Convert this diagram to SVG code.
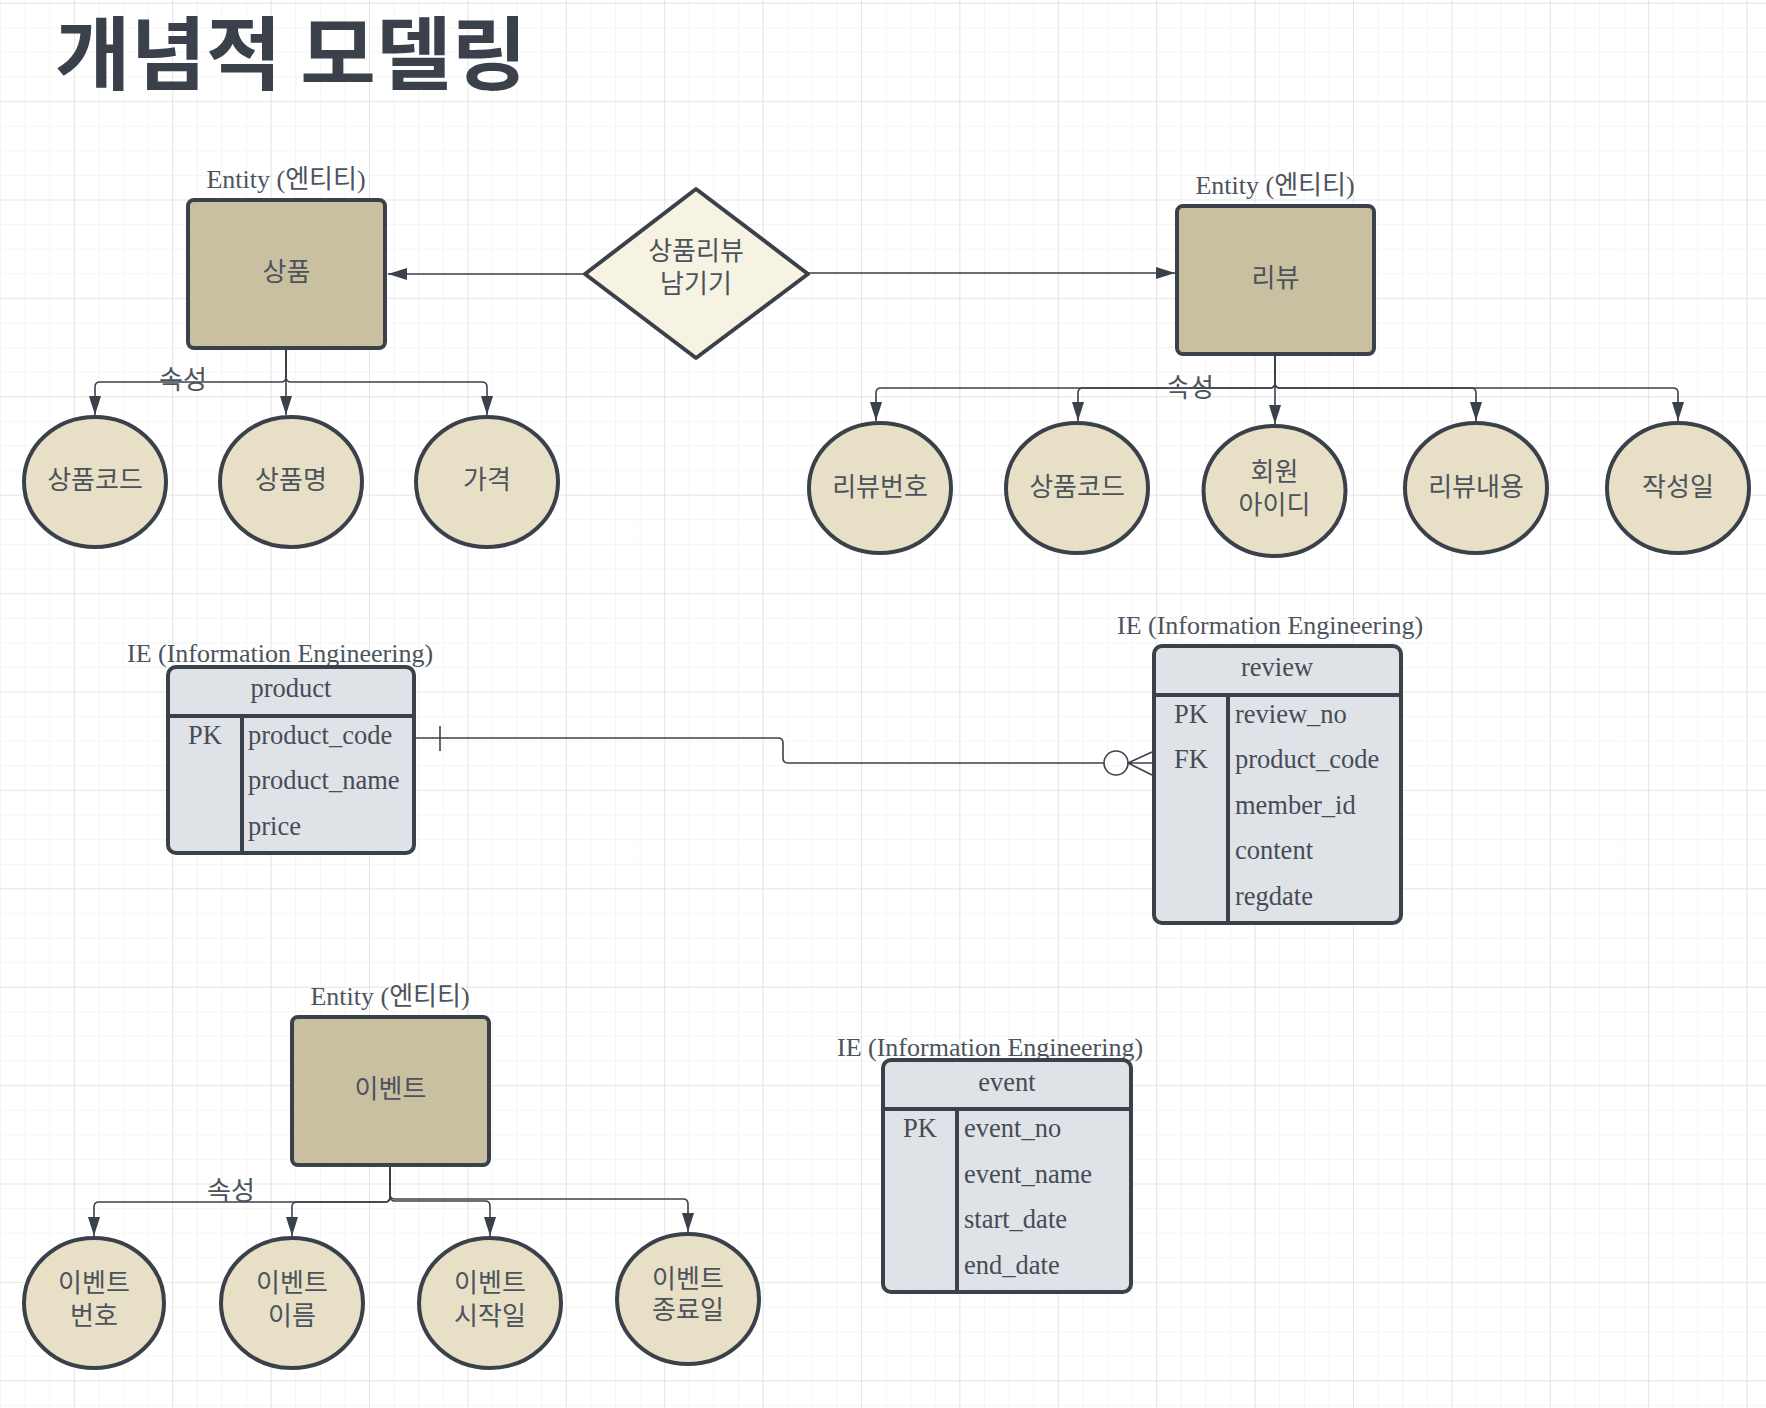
<svg xmlns="http://www.w3.org/2000/svg" width="1766" height="1408" viewBox="0 0 1766 1408">
<defs>
<pattern id="gMinor" width="24.6" height="24.6" patternUnits="userSpaceOnUse" x="0" y="2.7"><path d="M0,0 H24.6 M0,0 V24.6" fill="none" stroke="#ececec" stroke-width="1"/></pattern>
<pattern id="gMajor" width="98.4" height="98.4" patternUnits="userSpaceOnUse" x="73.8" y="2.7"><path d="M0,0 H98.4 M0,0 V98.4" fill="none" stroke="#dadada" stroke-width="1.2"/></pattern>
<marker id="arr" viewBox="0 0 19 12" refX="19" refY="6" markerWidth="19" markerHeight="12" markerUnits="userSpaceOnUse" orient="auto"><path d="M0,0 L19,6 L0,12 z" fill="#3a414a"/></marker>
<style>
.ent{fill:#c9c0a1;stroke:#3a414a;stroke-width:4}
.att{fill:#e8e0c6;stroke:#3a414a;stroke-width:4}
.rel{fill:#f6f3e2;stroke:#3a414a;stroke-width:4;stroke-linejoin:round}
.tbl{fill:#dfe2e7;stroke:#3a414a;stroke-width:4}
.sep{stroke:#3a414a;stroke-width:4;fill:none}
.con{fill:none;stroke:#3a414a;stroke-width:1.6}
.ko{font-family:"Noto Sans CJK KR","Noto Sans",sans-serif;font-size:26px;fill:#4c535c;text-anchor:middle}
.lbl{font-family:"Liberation Serif","Noto Sans CJK KR",serif;font-size:26px;fill:#4c535c}
.mid{text-anchor:middle}
.fld{font-family:"Liberation Serif",serif;font-size:26.5px;fill:#454c55}
</style>
</defs>
<rect width="1766" height="1408" fill="#ffffff"/>
<rect width="1766" height="1408" fill="url(#gMinor)"/>
<rect width="1766" height="1408" fill="url(#gMajor)"/>

<text x="55" y="83" font-family="'Noto Sans CJK KR',sans-serif" font-weight="bold" font-size="80" fill="#3a414a" textLength="472" lengthAdjust="spacingAndGlyphs">개념적 모델링</text>

<g id="connectors">
<path class="con" d="M585,274 H388" marker-end="url(#arr)"/>
<path class="con" d="M808,273 H1175" marker-end="url(#arr)"/>
<path class="con" d="M286,350 V377 Q286,382 281,382 H100 Q95,382 95,387 V415" marker-end="url(#arr)"/>
<path class="con" d="M286,350 V415" marker-end="url(#arr)"/>
<path class="con" d="M286,350 V377 Q286,382 291,382 H482 Q487,382 487,387 V415" marker-end="url(#arr)"/>
<path class="con" d="M1275,356 V383 Q1275,388 1270,388 H881 Q876,388 876,393 V421" marker-end="url(#arr)"/>
<path class="con" d="M1275,356 V383 Q1275,388 1270,388 H1083 Q1078,388 1078,393 V421" marker-end="url(#arr)"/>
<path class="con" d="M1275,356 V424" marker-end="url(#arr)"/>
<path class="con" d="M1275,356 V383 Q1275,388 1280,388 H1471 Q1476,388 1476,393 V421" marker-end="url(#arr)"/>
<path class="con" d="M1275,356 V383 Q1275,388 1280,388 H1673 Q1678,388 1678,393 V421" marker-end="url(#arr)"/>
<path class="con" d="M390,1167 V1197 Q390,1202 385,1202 H99 Q94,1202 94,1207 V1236" marker-end="url(#arr)"/>
<path class="con" d="M390,1167 V1197 Q390,1202 385,1202 H297 Q292,1202 292,1207 V1236" marker-end="url(#arr)"/>
<path class="con" d="M390,1167 V1196 Q390,1201 395,1201 H485 Q490,1201 490,1206 V1236" marker-end="url(#arr)"/>
<path class="con" d="M390,1167 V1194 Q390,1199 395,1199 H683 Q688,1199 688,1204 V1232" marker-end="url(#arr)"/>
<path class="con" d="M414,738 H778 Q783,738 783,743 V758 Q783,763 788,763 H1104"/>
<path class="con" d="M440,726 V751"/>
<circle class="con" cx="1116" cy="763" r="12" fill="#ffffff"/>
<path class="con" d="M1128,763 L1152,752 M1128,763 L1152,763 M1128,763 L1152,775"/>
</g>

<text class="ko" x="183" y="389" font-size="24">속성</text>
<text class="ko" x="1190" y="397" font-size="24">속성</text>
<text class="ko" x="231" y="1200" font-size="24">속성</text>

<g id="ent-product">
<text class="lbl mid" x="286" y="188">Entity (엔티티)</text>
<rect class="ent" x="188" y="200" width="197" height="148" rx="6"/>
<text class="ko" x="286.5" y="281">상품</text>
</g>
<g id="rel-review">
<path class="rel" d="M696,189 L808,274 L696,358 L585,274 Z"/>
<text class="ko" x="696" y="260">상품리뷰<tspan x="696" dy="33">남기기</tspan></text>
</g>
<g id="ent-review">
<text class="lbl mid" x="1275" y="194">Entity (엔티티)</text>
<rect class="ent" x="1177" y="206" width="197" height="148" rx="6"/>
<text class="ko" x="1275.5" y="287">리뷰</text>
</g>

<g id="att-p1"><ellipse class="att" cx="95" cy="482" rx="71" ry="65"/><text class="ko" x="95" y="489">상품코드</text></g>
<g id="att-p2"><ellipse class="att" cx="291" cy="482" rx="71" ry="65"/><text class="ko" x="291" y="489">상품명</text></g>
<g id="att-p3"><ellipse class="att" cx="487" cy="482" rx="71" ry="65"/><text class="ko" x="487" y="489">가격</text></g>

<g id="att-r1"><ellipse class="att" cx="880" cy="488" rx="71" ry="65"/><text class="ko" x="880" y="496">리뷰번호</text></g>
<g id="att-r2"><ellipse class="att" cx="1077" cy="488" rx="71" ry="65"/><text class="ko" x="1077" y="496">상품코드</text></g>
<g id="att-r3"><ellipse class="att" cx="1274.5" cy="491" rx="71" ry="65"/><text class="ko" x="1274.5" y="481">회원<tspan x="1274.5" dy="33">아이디</tspan></text></g>
<g id="att-r4"><ellipse class="att" cx="1476" cy="488" rx="71" ry="65"/><text class="ko" x="1476" y="496">리뷰내용</text></g>
<g id="att-r5"><ellipse class="att" cx="1678" cy="488" rx="71" ry="65"/><text class="ko" x="1678" y="496">작성일</text></g>

<g id="tbl-product">
<text class="lbl" x="127" y="662" font-size="27">IE (Information Engineering)</text>
<rect class="tbl" x="168" y="667" width="246" height="186" rx="8"/>
<path class="sep" d="M168,716 H414 M242,716 V853"/>
<text class="fld mid" x="291" y="697">product</text>
<text class="fld mid" x="205" y="744">PK</text>
<text class="fld" x="248" y="744">product_code</text>
<text class="fld" x="248" y="789">product_name</text>
<text class="fld" x="248" y="835">price</text>
</g>

<g id="tbl-review">
<text class="lbl" x="1117" y="634" font-size="27">IE (Information Engineering)</text>
<rect class="tbl" x="1154" y="646" width="247" height="277" rx="8"/>
<path class="sep" d="M1154,695 H1401 M1228,695 V923"/>
<text class="fld mid" x="1277" y="676">review</text>
<text class="fld mid" x="1191" y="723">PK</text>
<text class="fld mid" x="1191" y="768">FK</text>
<text class="fld" x="1235" y="723">review_no</text>
<text class="fld" x="1235" y="768">product_code</text>
<text class="fld" x="1235" y="814">member_id</text>
<text class="fld" x="1235" y="859">content</text>
<text class="fld" x="1235" y="905">regdate</text>
</g>

<g id="ent-event">
<text class="lbl mid" x="390" y="1005">Entity (엔티티)</text>
<rect class="ent" x="292" y="1017" width="197" height="148" rx="6"/>
<text class="ko" x="390.5" y="1098">이벤트</text>
</g>

<g id="att-e1"><ellipse class="att" cx="94" cy="1303" rx="70" ry="65"/><text class="ko" x="94" y="1292">이벤트<tspan x="94" dy="33">번호</tspan></text></g>
<g id="att-e2"><ellipse class="att" cx="292" cy="1303" rx="71" ry="65"/><text class="ko" x="292" y="1292">이벤트<tspan x="292" dy="33">이름</tspan></text></g>
<g id="att-e3"><ellipse class="att" cx="490" cy="1303" rx="71" ry="65"/><text class="ko" x="490" y="1292">이벤트<tspan x="490" dy="33">시작일</tspan></text></g>
<g id="att-e4"><ellipse class="att" cx="688" cy="1299" rx="71" ry="65"/><text class="ko" x="688" y="1288">이벤트<tspan x="688" dy="31">종료일</tspan></text></g>

<g id="tbl-event">
<text class="lbl" x="837" y="1056" font-size="27">IE (Information Engineering)</text>
<rect class="tbl" x="883" y="1060" width="248" height="232" rx="8"/>
<path class="sep" d="M883,1109 H1131 M957,1109 V1292"/>
<text class="fld mid" x="1007" y="1091">event</text>
<text class="fld mid" x="920" y="1137">PK</text>
<text class="fld" x="964" y="1137">event_no</text>
<text class="fld" x="964" y="1183">event_name</text>
<text class="fld" x="964" y="1228">start_date</text>
<text class="fld" x="964" y="1274">end_date</text>
</g>
</svg>
